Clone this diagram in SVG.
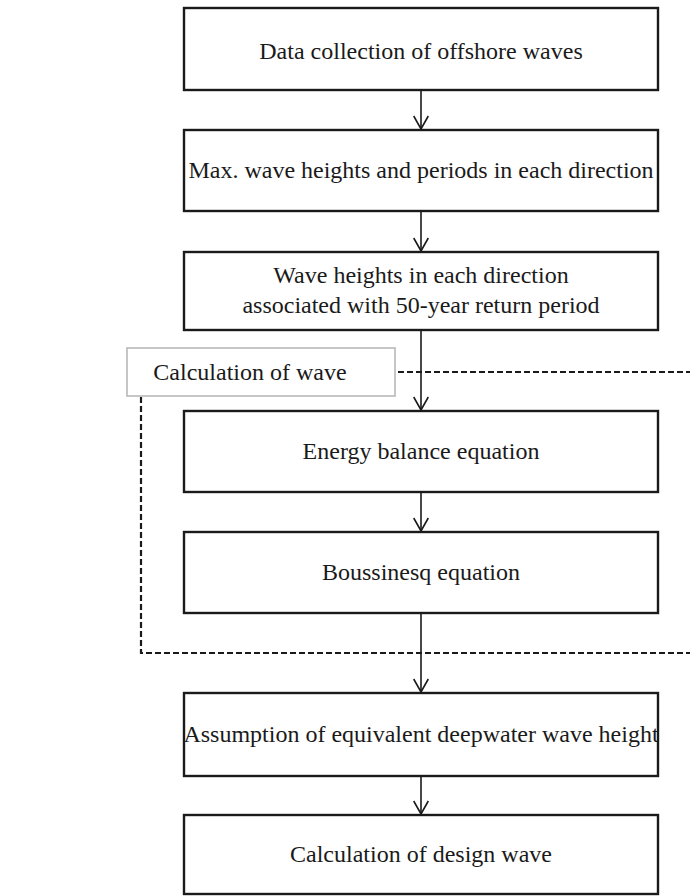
<svg xmlns="http://www.w3.org/2000/svg" width="690" height="896" viewBox="0 0 690 896">
<style>
.box{fill:#fff;stroke:#1a1a1a;stroke-width:2.4}
.cbox{fill:#fff;stroke:#b8b8b8;stroke-width:1.6}
.t{font-family:"Liberation Serif","Times New Roman",serif;font-size:24px;fill:#1a1a1a;text-anchor:middle}
.ln{stroke:#1a1a1a;stroke-width:1.6;fill:none}
.ds{stroke:#1a1a1a;stroke-width:2.2;fill:none;stroke-dasharray:6 3}
</style>
<defs>
<marker id="ah" viewBox="0 0 15 16" refX="14" refY="8" markerWidth="15" markerHeight="16" markerUnits="userSpaceOnUse" orient="auto">
<path d="M1,0.7 L14,8 L1,15.3" fill="none" stroke="#1a1a1a" stroke-width="1.6"/>
</marker>
</defs>
<rect width="690" height="896" fill="#fff"/>
<g id="connectors">
<line class="ln" x1="421" y1="90" x2="421" y2="129" marker-end="url(#ah)"/>
<line class="ln" x1="421" y1="211" x2="421" y2="251" marker-end="url(#ah)"/>
<line class="ln" x1="421" y1="330" x2="421" y2="410" marker-end="url(#ah)"/>
<line class="ln" x1="421" y1="492" x2="421" y2="531" marker-end="url(#ah)"/>
<line class="ln" x1="421" y1="613" x2="421" y2="692" marker-end="url(#ah)"/>
<line class="ln" x1="421" y1="776" x2="421" y2="814" marker-end="url(#ah)"/>
<path class="ds" d="M398,372 H690"/>
<path class="ds" d="M141,397 V653 H690"/>
</g>
<g id="n1"><rect class="box" x="184" y="8" width="474" height="82"/>
<text class="t" x="421" y="59">Data collection of offshore waves</text></g>
<g id="n2"><rect class="box" x="184" y="130" width="474" height="81"/>
<text class="t" x="421" y="178">Max. wave heights and periods in each direction</text></g>
<g id="n3"><rect class="box" x="184" y="252" width="474" height="78"/>
<text class="t" x="421" y="283">Wave heights in each direction</text>
<text class="t" x="421" y="313">associated with 50-year return period</text></g>
<g id="calc"><rect class="cbox" x="127" y="348" width="268" height="48"/>
<text class="t" x="250" y="380">Calculation of wave</text></g>
<g id="n4"><rect class="box" x="184" y="411" width="474" height="81"/>
<text class="t" x="421" y="459">Energy balance equation</text></g>
<g id="n5"><rect class="box" x="184" y="532" width="474" height="81"/>
<text class="t" x="421" y="580">Boussinesq equation</text></g>
<g id="n6"><rect class="box" x="184" y="693" width="474" height="83"/>
<text class="t" x="421" y="742">Assumption of equivalent deepwater wave height</text></g>
<g id="n7"><rect class="box" x="184" y="815" width="474" height="79"/>
<text class="t" x="421" y="862">Calculation of design wave</text></g>
</svg>
